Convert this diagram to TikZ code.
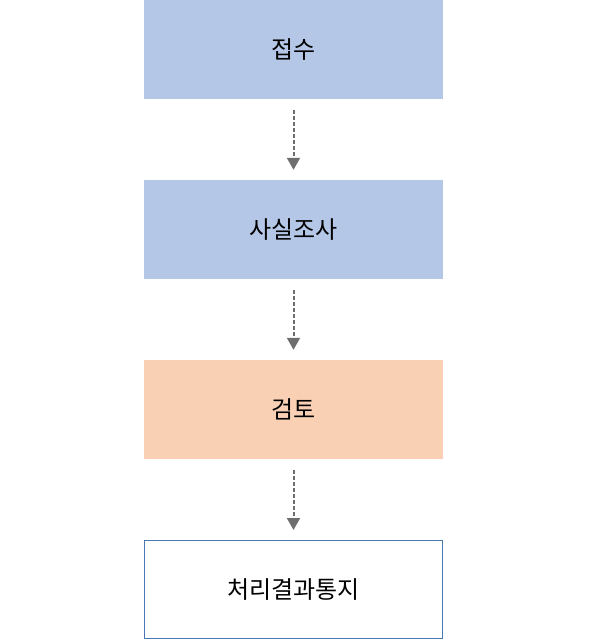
\documentclass[tikz,border=0pt]{standalone}
\usepackage{fontspec}
\newfontfamily\kr{Noto Sans CJK KR}
\usetikzlibrary{arrows.meta}
\definecolor{boxblue}{HTML}{B4C7E7}
\definecolor{boxorange}{HTML}{F9D0B4}
\definecolor{edgeblue}{HTML}{4A78B4}
\definecolor{arrgray}{HTML}{6E6E6E}
\tikzset{
  stagebox/.style={minimum width=299pt, minimum height=99pt, inner sep=0pt, font=\kr\fontsize{24}{28}\selectfont, text=black},
  flowarrow/.style={draw=arrgray, line width=2pt, dash pattern=on 3.5pt off 2.5pt, -{Triangle[width=13pt,length=12pt]}, shorten >=0pt}
}
\begin{document}
\begin{tikzpicture}[x=1pt,y=-1pt]
\useasboundingbox (0,0) rectangle (596,640);
\node[stagebox, fill=boxblue] (a) at (293.5,49.5) {접수};
\node[stagebox, fill=boxblue] (b) at (293.5,229.5) {사실조사};
\node[stagebox, fill=boxorange] (c) at (293.5,409.5) {검토};
\node[stagebox, draw=edgeblue, line width=1pt, fill=white, minimum width=298pt, minimum height=98pt] (d) at (293.5,589.5) {처리결과통지};
\draw[flowarrow] ([yshift=-11pt]a.south) -- ([yshift=10pt]b.north);
\draw[flowarrow] ([yshift=-11pt]b.south) -- ([yshift=10pt]c.north);
\draw[flowarrow] ([yshift=-11pt]c.south) -- ([yshift=10pt]d.north);
\end{tikzpicture}
\end{document}
